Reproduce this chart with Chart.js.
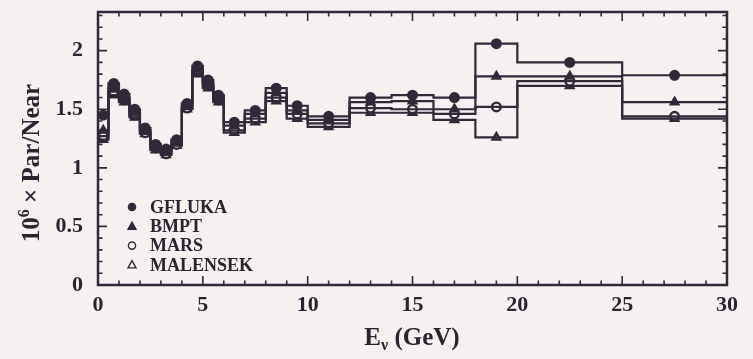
<!DOCTYPE html>
<html>
<head>
<meta charset="utf-8">
<script src="https://cdn.jsdelivr.net/npm/chart.js@4.4.1/dist/chart.umd.min.js"></script>
<style>
    html, body { margin: 0; padding: 0; background: #f4f1f0; }
    #caixa { width: 753px; height: 359px; position: relative; }
</style>
</head>
<body>
<div id="caixa"><canvas id="grafico" width="753" height="359"></canvas></div>
<script>
/* --- DADOS --- */
const binEdges = [0, 0.5, 1, 1.5, 2, 2.5, 3, 3.5, 4, 4.5, 5, 5.5, 6, 7, 8, 9, 10, 12, 14, 16, 18, 20, 25, 30];
const gfluka   = [1.45, 1.72, 1.63, 1.50, 1.34, 1.20, 1.16, 1.24, 1.55, 1.87, 1.75, 1.62, 1.39, 1.49, 1.68, 1.53, 1.44, 1.60, 1.62, 1.60, 2.06, 1.90, 1.79];
const bmpt     = [1.32, 1.68, 1.60, 1.47, 1.32, 1.18, 1.14, 1.22, 1.53, 1.84, 1.72, 1.60, 1.36, 1.46, 1.64, 1.49, 1.41, 1.56, 1.57, 1.50, 1.78, 1.78, 1.56];
const mars     = [1.27, 1.65, 1.58, 1.45, 1.30, 1.17, 1.12, 1.20, 1.51, 1.82, 1.70, 1.58, 1.32, 1.42, 1.60, 1.46, 1.38, 1.51, 1.50, 1.46, 1.52, 1.74, 1.44];
const malensek = [1.24, 1.62, 1.56, 1.43, 1.29, 1.15, 1.11, 1.19, 1.50, 1.80, 1.68, 1.56, 1.30, 1.39, 1.57, 1.42, 1.35, 1.47, 1.47, 1.41, 1.26, 1.70, 1.42];
const seriesNames = ['GFLUKA', 'BMPT', 'MARS', 'MALENSEK'];
const xTicks = [0, 5, 10, 15, 20, 25, 30];
const yTicks = [0, 0.5, 1, 1.5, 2];

const INK = '#302938';
const TEXTO = '#2a2430';
const FUNDO = '#f4f1f0';
const FONTE = '"Liberation Serif", "DejaVu Serif", serif';

const estilos = [
    { pointStyle: 'circle',   fill: INK },
    { pointStyle: 'triangle', fill: INK },
    { pointStyle: 'circle',   fill: FUNDO },
    { pointStyle: 'triangle', fill: FUNDO }
];

// histograma em degraus: cada bin vira dois pontos (borda esquerda, borda direita)
function degraus(vals) {
    const pts = [];
    vals.forEach((v, i) => {
        pts.push({ x: binEdges[i], y: v });
        pts.push({ x: binEdges[i + 1], y: v });
    });
    return pts;
}
function centros(vals) {
    return vals.map((v, i) => ({ x: (binEdges[i] + binEdges[i + 1]) / 2, y: v }));
}

const todas = [gfluka, bmpt, mars, malensek];
const datasets = [];
todas.forEach((vals, k) => {
    datasets.push({
        label: seriesNames[k] + '_linha',
        data: degraus(vals),
        borderColor: INK,
        borderWidth: 2.2,
        pointRadius: 0,
        tension: 0,
        showLine: true
    });
});
todas.forEach((vals, k) => {
    datasets.push({
        label: seriesNames[k],
        data: centros(vals),
        showLine: false,
        pointStyle: estilos[k].pointStyle,
        pointRadius: 4.3,
        pointBackgroundColor: estilos[k].fill,
        pointBorderColor: INK,
        pointBorderWidth: 2.4
    });
});

/* --- MOLDURA, TICKS INTERNOS, TITULOS E LEGENDA --- */
const molduraPlugin = {
    id: 'moldura',
    afterDraw(chart) {
        const ctx = chart.ctx;
        const a = chart.chartArea;
        const sx = chart.scales.x, sy = chart.scales.y;
        ctx.save();
        ctx.strokeStyle = INK;
        ctx.lineWidth = 2.5;
        ctx.strokeRect(a.left, a.top, a.right - a.left, a.bottom - a.top);

        // ticks para dentro nos 4 lados
        ctx.lineWidth = 1.6;
        ctx.beginPath();
        for (let e = 0; e <= 30; e++) {
            const px = sx.getPixelForValue(e);
            const len = e % 5 === 0 ? 9 : 4.5;
            ctx.moveTo(px, a.bottom); ctx.lineTo(px, a.bottom - len);
            ctx.moveTo(px, a.top); ctx.lineTo(px, a.top + len);
        }
        for (let i = 0; i <= 23; i++) {
            const v = i / 10;
            const py = sy.getPixelForValue(v);
            const len = i % 5 === 0 ? 9 : 4.5;
            ctx.moveTo(a.left, py); ctx.lineTo(a.left + len, py);
            ctx.moveTo(a.right, py); ctx.lineTo(a.right - len, py);
        }
        ctx.stroke();

        // titulo do eixo x: E_nu (GeV)
        ctx.fillStyle = TEXTO;
        ctx.textBaseline = 'alphabetic';
        ctx.textAlign = 'left';
        const fG = 'bold 25px ' + FONTE, fP = 'bold 16px ' + FONTE;
        ctx.font = fG; const wE = ctx.measureText('E').width;
        ctx.font = fP; const wNu = ctx.measureText('\u03bd').width;
        ctx.font = fG; const wR = ctx.measureText(' (GeV)').width;
        let x0 = 412 - (wE + wNu + wR) / 2;
        const by = 345;
        ctx.font = fG; ctx.fillText('E', x0, by);
        ctx.font = fP; ctx.fillText('\u03bd', x0 + wE, by + 5);
        ctx.font = fG; ctx.fillText(' (GeV)', x0 + wE + wNu, by);

        // titulo do eixo y: 10^6 x Par/Near
        ctx.save();
        ctx.translate(39, 163);
        ctx.rotate(-Math.PI / 2);
        ctx.font = fG; const w10 = ctx.measureText('10').width;
        ctx.font = fP; const w6 = ctx.measureText('6').width;
        ctx.font = fG; const wResto = ctx.measureText(' \u00d7 Par/Near').width;
        x0 = -(w10 + w6 + wResto) / 2;
        ctx.font = fG; ctx.fillText('10', x0, 0);
        ctx.font = fP; ctx.fillText('6', x0 + w10, -10);
        ctx.font = fG; ctx.fillText(' \u00d7 Par/Near', x0 + w10 + w6, 0);
        ctx.restore();

        // legenda dentro da area do grafico
        ctx.font = 'bold 18px ' + FONTE;
        ctx.textBaseline = 'middle';
        seriesNames.forEach((nome, k) => {
            const yy = 207 + k * 19.3;
            const ds = chart.data.datasets[4 + k];
            ctx.fillStyle = TEXTO;
            ctx.fillText(nome, 150, yy + 1);
            ctx.fillStyle = ds.pointBackgroundColor;
            ctx.strokeStyle = INK;
            ctx.lineWidth = 1.4;
            ctx.beginPath();
            if (ds.pointStyle === 'circle') {
                ctx.arc(132, yy, 3.6, 0, Math.PI * 2);
            } else {
                ctx.moveTo(132, yy - 4.2);
                ctx.lineTo(136, yy + 3);
                ctx.lineTo(128, yy + 3);
                ctx.closePath();
            }
            ctx.fill();
            ctx.stroke();
        });
        ctx.restore();
    }
};

/* --- GRAFICO --- */
const ctx = document.getElementById('grafico').getContext('2d');
new Chart(ctx, {
    type: 'line',
    data: { datasets: datasets },
    options: {
        responsive: false,
        animation: false,
        layout: { padding: { left: 0, right: 26, top: 12, bottom: 0 } },
        plugins: {
            legend: { display: false },
            tooltip: { enabled: false }
        },
        scales: {
            x: {
                type: 'linear',
                min: 0, max: 30,
                grid: { display: false, drawTicks: false },
                border: { display: false },
                afterFit: (s) => { s.height = 74; s.paddingLeft = 0; s.paddingRight = 0; },
                afterBuildTicks: (s) => { s.ticks = xTicks.map(v => ({ value: v })); },
                ticks: {
                    padding: 7,
                    maxRotation: 0,
                    color: TEXTO,
                    font: { family: FONTE, size: 22, weight: 'bold' },
                    callback: (v) => String(v)
                }
            },
            y: {
                type: 'linear',
                min: 0, max: 2.33,
                grid: { display: false, drawTicks: false },
                border: { display: false },
                afterFit: (s) => { s.width = 98; s.paddingTop = 0; s.paddingBottom = 0; },
                afterBuildTicks: (s) => { s.ticks = yTicks.map(v => ({ value: v })); },
                ticks: {
                    padding: 15,
                    color: TEXTO,
                    font: { family: FONTE, size: 22, weight: 'bold' },
                    callback: (v) => String(v)
                }
            }
        }
    },
    plugins: [molduraPlugin]
});
</script>
</body>
</html>
